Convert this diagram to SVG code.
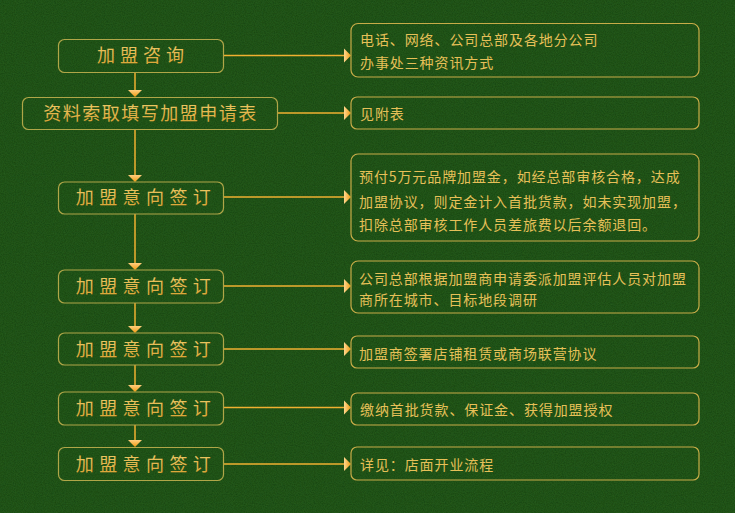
<svg xmlns="http://www.w3.org/2000/svg" width="735" height="513" viewBox="0 0 735 513">
<defs>
<filter id="noise" x="0" y="0" width="100%" height="100%">
<feTurbulence type="fractalNoise" baseFrequency="0.9" numOctaves="2" seed="3"/>
<feColorMatrix type="matrix" values="0 0 0 0 0.03  0 0 0 0 0.16  0 0 0 0 0.02  0 0 0 0.6 0"/>
<feComposite in2="SourceGraphic" operator="in"/>
</filter>
<linearGradient id="gh" x1="0" y1="0" x2="1" y2="0">
<stop offset="0" stop-color="#ffd890"/>
<stop offset="1" stop-color="#f09a10"/>
</linearGradient>
<linearGradient id="gv" x1="0" y1="0" x2="0" y2="1">
<stop offset="0" stop-color="#ffcf80"/>
<stop offset="1" stop-color="#f09a10"/>
</linearGradient>
<linearGradient id="gt" x1="0" y1="0" x2="0" y2="1">
<stop offset="0" stop-color="#f0d070"/>
<stop offset="1" stop-color="#d8a030"/>
</linearGradient>
</defs>
<style>
.bg{fill:#17440f}
.box{fill:none;stroke:#b0a648;stroke-width:1.2}
.rbox{fill:none;stroke:#c8ac48;stroke-width:1.2}
.ln{stroke:#f0b030;stroke-width:1.5;fill:none}
.ah{fill:url(#gh)}
.av{fill:url(#gv)}
.lt{font-family:"Noto Sans CJK SC","Noto Sans CJK TC",sans-serif;font-size:18px;fill:url(#gt);text-anchor:middle}
.rt{font-family:"Noto Sans CJK SC","Noto Sans CJK TC",sans-serif;font-size:14px;fill:#e6c058;letter-spacing:0.9px}
</style>
<rect class="bg" x="0" y="0" width="735" height="513"/>
<rect x="0" y="0" width="735" height="513" fill="#17440f" filter="url(#noise)"/>

<g id="connectors">
<line class="ln" x1="135" y1="72" x2="135" y2="92"/>
<line class="ln" x1="135" y1="129" x2="135" y2="177"/>
<line class="ln" x1="135" y1="214" x2="135" y2="265"/>
<line class="ln" x1="135" y1="303" x2="135" y2="328"/>
<line class="ln" x1="135" y1="365" x2="135" y2="387"/>
<line class="ln" x1="135" y1="425" x2="135" y2="442"/>
<polygon class="av" points="128,90 142,90 135,97"/>
<polygon class="av" points="128,175 142,175 135,182"/>
<polygon class="av" points="128,263 142,263 135,270"/>
<polygon class="av" points="128,326 142,326 135,333"/>
<polygon class="av" points="128,385 142,385 135,392"/>
<polygon class="av" points="128,440 142,440 135,447"/>

<line class="ln" x1="223" y1="55.5" x2="346" y2="55.5"/>
<line class="ln" x1="277" y1="113" x2="346" y2="113"/>
<line class="ln" x1="223" y1="197" x2="346" y2="197"/>
<line class="ln" x1="223" y1="286" x2="346" y2="286"/>
<line class="ln" x1="223" y1="349" x2="346" y2="349"/>
<line class="ln" x1="223" y1="407.5" x2="346" y2="407.5"/>
<line class="ln" x1="223" y1="464" x2="346" y2="464"/>
<polygon class="ah" points="344,48.5 351,55.5 344,62.5"/>
<polygon class="ah" points="344,106 351,113 344,120"/>
<polygon class="ah" points="344,190 351,197 344,204"/>
<polygon class="ah" points="344,279 351,286 344,293"/>
<polygon class="ah" points="344,342 351,349 344,356"/>
<polygon class="ah" points="344,400.5 351,407.5 344,414.5"/>
<polygon class="ah" points="344,457 351,464 344,471"/>
</g>

<g id="n1"><rect class="box" x="58.5" y="39.5" width="165" height="33" rx="6"/>
<text class="lt" x="143" y="62" style="letter-spacing:5px">加盟咨询</text></g>
<g id="n2"><rect class="box" x="22.5" y="97.5" width="255" height="32" rx="6"/>
<text class="lt" x="150.5" y="120" style="letter-spacing:1.5px">资料索取填写加盟申请表</text></g>
<g id="n3"><rect class="box" x="58.5" y="182" width="165" height="32" rx="6"/>
<text class="lt" x="146" y="204" style="letter-spacing:5.4px">加盟意向签订</text></g>
<g id="n4"><rect class="box" x="58.5" y="270" width="165" height="33" rx="6"/>
<text class="lt" x="146" y="293" style="letter-spacing:5.4px">加盟意向签订</text></g>
<g id="n5"><rect class="box" x="58.5" y="333" width="165" height="32" rx="6"/>
<text class="lt" x="146" y="356" style="letter-spacing:5.4px">加盟意向签订</text></g>
<g id="n6"><rect class="box" x="58.5" y="392" width="165" height="33" rx="6"/>
<text class="lt" x="146" y="415" style="letter-spacing:5.4px">加盟意向签订</text></g>
<g id="n7"><rect class="box" x="58.5" y="447.5" width="165" height="33" rx="6"/>
<text class="lt" x="146" y="471" style="letter-spacing:5.4px">加盟意向签订</text></g>

<g id="r1"><rect class="rbox" x="351" y="23.5" width="348" height="53.5" rx="7"/>
<text class="rt" x="360" y="45">电话、网络、公司总部及各地分公司</text>
<text class="rt" x="360" y="68">办事处三种资讯方式</text></g>
<g id="r2"><rect class="rbox" x="351" y="97" width="348" height="32" rx="6"/>
<text class="rt" x="360" y="119">见附表</text></g>
<g id="r3"><rect class="rbox" x="351" y="154" width="348" height="87" rx="7"/>
<text class="rt" x="359" y="182">预付5万元品牌加盟金，如经总部审核合格，达成</text>
<text class="rt" x="359" y="207">加盟协议，则定金计入首批货款，如未实现加盟，</text>
<text class="rt" x="359" y="230">扣除总部审核工作人员差旅费以后余额退回。</text></g>
<g id="r4"><rect class="rbox" x="351" y="261" width="348" height="52" rx="7"/>
<text class="rt" x="359" y="284">公司总部根据加盟商申请委派加盟评估人员对加盟</text>
<text class="rt" x="359" y="305">商所在城市、目标地段调研</text></g>
<g id="r5"><rect class="rbox" x="351" y="336" width="348" height="32" rx="6"/>
<text class="rt" x="359" y="359">加盟商签署店铺租赁或商场联营协议</text></g>
<g id="r6"><rect class="rbox" x="351" y="393" width="348" height="32" rx="6"/>
<text class="rt" x="360" y="415">缴纳首批货款、保证金、获得加盟授权</text></g>
<g id="r7"><rect class="rbox" x="351" y="447" width="348" height="33" rx="6"/>
<text class="rt" x="360" y="470">详见：店面开业流程</text></g>
</svg>
